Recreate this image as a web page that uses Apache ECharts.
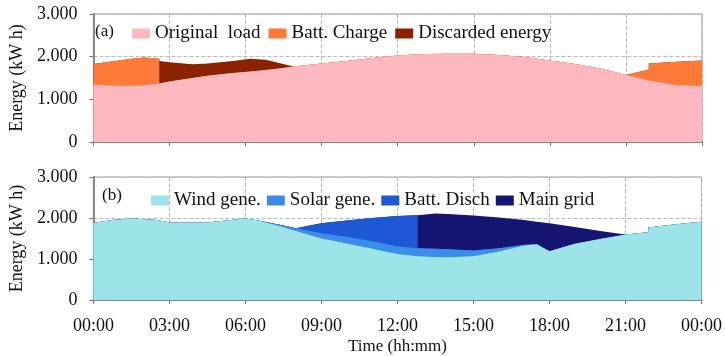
<!DOCTYPE html>
<html>
<head>
<meta charset="utf-8">
<script src="https://cdn.jsdelivr.net/npm/echarts@6/dist/echarts.min.js"></script>
<style>
    html, body { margin: 0; padding: 0; background: #fff; }
    #chart { width: 725px; height: 356px; }
</style>
</head>
<body>
<div id="chart"></div>
<script>
// panel (a) - hours, kW h
let tA = [0, 0.5, 1, 1.5, 2, 2.6, 2.6, 3, 3.9, 4.5, 5.4, 6.2, 6.8, 7.4, 7.9, 9, 10, 11, 12, 13, 14, 15, 16, 17, 18, 19, 20, 21, 21.2, 21.9, 21.9, 23, 24];
let loadA = [1340, 1330, 1320, 1320, 1330, 1370, 1370, 1420, 1500, 1550, 1610, 1650, 1690, 1730, 1770, 1840, 1900, 1970, 2030, 2060, 2070, 2070, 2040, 1990, 1910, 1830, 1720, 1570, 1540, 1440, 1440, 1330, 1310];
let chargeA = [490, 540, 590, 630, 650, 580, 0, 0, 0, 0, 0, 0, 0, 0, 0, 0, 0, 0, 0, 0, 0, 0, 0, 0, 0, 0, 0, 0, 60, 260, 400, 550, 600];
let discardA = [0, 0, 0, 0, 0, 0, 530, 450, 320, 290, 280, 300, 240, 110, 0, 0, 0, 0, 0, 0, 0, 0, 0, 0, 0, 0, 0, 0, 0, 0, 0, 0, 0];

// panel (b)
let tB = [0, 0.75, 1.5, 2.5, 3, 4.5, 6, 6.5, 7.4, 8, 8, 9, 10, 11, 12, 12.8, 12.8, 13.5, 14, 15, 16, 17, 17.5, 18, 19, 20, 21, 21.9, 21.9, 23, 24];
let windB = [1880, 1950, 1990, 1950, 1890, 1890, 1990, 1940, 1790, 1680, 1680, 1500, 1380, 1250, 1120, 1070, 1070, 1050, 1040, 1070, 1180, 1330, 1360, 1190, 1370, 1490, 1600, 1650, 1770, 1850, 1910];
let solarB = [0, 0, 0, 0, 0, 0, 0, 0, 40, 70, 70, 130, 160, 180, 190, 190, 190, 200, 200, 140, 80, 20, 0, 0, 0, 0, 0, 0, 0, 0, 0];
let battB = [0, 0, 0, 0, 0, 0, 0, 0, 0, 0, 40, 240, 400, 570, 740, 810, 0, 0, 0, 0, 0, 0, 0, 0, 0, 0, 0, 0, 0, 0, 0];
let gridB = [0, 0, 0, 0, 0, 0, 0, 0, 0, 0, 0, 0, 0, 0, 0, 0, 820, 860, 860, 850, 750, 600, 550, 680, 410, 190, 0, 0, 0, 0, 0];

let namesA = ["Original  load", "Batt. Charge", "Discarded energy"];
let namesB = ["Wind gene.", "Solar gene.", "Batt. Disch", "Main grid"];
let colorsA = ["#ffb8bf", "#ff7a38", "#8a2200"];
let colorsB = ["#9de4e9", "#3c8de9", "#1e58d4", "#161672"];
let yTicks = [0, 1000, 2000, 3000];

const FONT = "Liberation Serif";

// stacked tops done by hand (value x axis + duplicate x for steps)
function stackSeries(t, layers, names, colors, idx) {
    let acc = t.map(function () { return 0; });
    let out = [];
    layers.forEach(function (v, k) {
        acc = acc.map(function (a, i) { return a + v[i]; });
        let top = acc.slice();
        out.push({
            name: names[k],
            type: "line",
            xAxisIndex: idx,
            yAxisIndex: idx,
            symbol: "none",
            lineStyle: { width: 0 },
            areaStyle: { color: colors[k], opacity: 1 },
            itemStyle: { color: colors[k] },
            z: 10 - k,
            data: t.map(function (x, i) { return [x, top[i]]; }),
        });
    });
    return out;
}

function xAxis(idx, showLabel) {
    return {
        type: "value",
        gridIndex: idx,
        min: 0,
        max: 24,
        interval: 3,
        name: showLabel ? "Time (hh:mm)" : "",
        nameLocation: "middle",
        nameGap: 38,
        nameTextStyle: { fontFamily: FONT, fontSize: 17, color: "#111" },
        axisLine: { lineStyle: { color: "#888", width: 2 } },
        axisTick: { show: true, length: 4, lineStyle: { color: "#777" } },
        axisLabel: {
            show: showLabel,
            fontFamily: FONT,
            fontSize: 18,
            color: "#111",
            margin: 17,
            formatter: function (v) {
                let h = v % 24;
                return (h < 10 ? "0" : "") + h + ":00";
            },
        },
        splitLine: { show: true, lineStyle: { type: "dashed", color: "#bbb" } },
    };
}

function yAxis(idx) {
    return {
        type: "value",
        gridIndex: idx,
        min: yTicks[0],
        max: yTicks[yTicks.length - 1],
        interval: 1000,
        name: "Energy (kW h)",
        nameLocation: "middle",
        nameGap: 59,
        nameTextStyle: { fontFamily: FONT, fontSize: 18, color: "#111" },
        axisLine: { show: true, lineStyle: { color: "#888", width: 2 } },
        axisTick: { show: true, length: 4, lineStyle: { color: "#777" } },
        axisLabel: {
            fontFamily: FONT,
            fontSize: 18,
            color: "#111",
            margin: 16,
            formatter: function (v) {
                return v === 0 ? "0" : (v / 1000).toFixed(3);
            },
        },
        splitLine: { show: true, lineStyle: { type: "dashed", color: "#bbb" } },
    };
}

let chart = echarts.init(document.getElementById("chart"));
chart.setOption({
    animation: false,
    backgroundColor: "#fff",
    title: [
        { text: "(a)", left: 90, top: 18, textStyle: { fontFamily: FONT, fontSize: 17, fontWeight: "normal", color: "#111" } },
        { text: "(b)", left: 97, top: 182, textStyle: { fontFamily: FONT, fontSize: 17, fontWeight: "normal", color: "#111" } },
    ],
    legend: [
        {
            data: namesA,
            left: 127,
            top: 19,
            itemWidth: 18,
            itemHeight: 10,
            itemGap: 8,
            icon: "rect",
            textStyle: { fontFamily: FONT, fontSize: 19, color: "#111" },
        },
        {
            data: namesB,
            left: 146,
            top: 186,
            itemWidth: 18,
            itemHeight: 10,
            itemGap: 6,
            icon: "rect",
            textStyle: { fontFamily: FONT, fontSize: 19, color: "#111" },
        },
    ],
    grid: [
        { left: 92, top: 14, width: 610, height: 128, show: true, borderColor: "#999", borderWidth: 1 },
        { left: 92, top: 177, width: 610, height: 124, show: true, borderColor: "#999", borderWidth: 1 },
    ],
    xAxis: [xAxis(0, false), xAxis(1, true)],
    yAxis: [yAxis(0), yAxis(1)],
    series: stackSeries(tA, [loadA, chargeA, discardA], namesA, colorsA, 0)
        .concat(stackSeries(tB, [windB, solarB, battB, gridB], namesB, colorsB, 1)),
});
</script>
</body>
</html>
